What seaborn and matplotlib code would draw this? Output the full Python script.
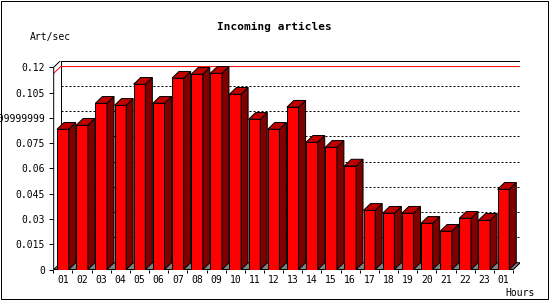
import numpy as np
import pandas as pd
import matplotlib
matplotlib.use("Agg")
import matplotlib.pyplot as plt
import seaborn as sns
from matplotlib.patches import Polygon, Rectangle

# ---- data ----
hours = ["01", "02", "03", "04", "05", "06", "07", "08", "09", "10", "11", "12",
         "13", "14", "15", "16", "17", "18", "19", "20", "21", "22", "23", "01"]
values = [0.0832, 0.0856, 0.0986, 0.0974, 0.1099, 0.0986, 0.1135, 0.1158,
          0.1164, 0.1040, 0.0891, 0.0832, 0.0963, 0.0755, 0.0725, 0.0614,
          0.0351, 0.0334, 0.0334, 0.0274, 0.0227, 0.0304, 0.0292, 0.0476]
ytick_values = [0, 0.015, 0.03, 0.045, 0.06, 0.075, 0.09, 0.105, 0.12]
ytick_labels = ["0", "0.015", "0.03", "0.045", "0.06", "0.075", "0.09999999",
                "0.105", "0.12"]
title = "Incoming articles"
ylabel = "Art/sec"
xlabel = "Hours"

sns.set_theme(style="white")
plt.rcParams['font.family'] = ['DejaVu Sans Mono', 'DejaVu Sans']

W, H = 550, 300
fig = plt.figure(figsize=(W / 100, H / 100), dpi=100)
fig.patch.set_facecolor("white")

ax = fig.add_axes([53.3 / W, (H - 269.5) / H, (520.3 - 53.3) / W, (269.5 - 60.5) / H])
ax.set_facecolor("none")

BAR_W = 0.61
X0, X1 = -0.48, 23.88
TOP = 0.1240
DX = 7 / 19.17
DY = TOP - 0.12
LW = 0.72

df = pd.DataFrame({"slot": np.arange(len(values)), "rate": values})
sns.barplot(data=df, x="slot", y="rate", color="#ff0000", saturation=1,
            width=BAR_W, edgecolor="black", linewidth=LW, errorbar=None,
            ax=ax, zorder=3)

# floor
floor = Polygon([(X0, 0), (X0 + DX, DY), (X1, DY), (X1 - DX, 0)], closed=True,
                facecolor="#808080", edgecolor="black", lw=LW, zorder=1)
ax.add_patch(floor)

# back wall outline
ax.plot([X0 + DX, X0 + DX, X1, X1], [DY, TOP, TOP, DY], color="black", lw=LW,
        zorder=2, solid_capstyle="butt")

# dotted gridlines on the back wall
for v in ytick_values[1:-1]:
    ax.plot([X0 + DX, X1], [v + DY, v + DY], color="black", lw=LW,
            linestyle=(0, (2, 2)), zorder=2)

# red max line
vmax = max(values)
ax.plot([X0, X0 + DX, X1], [vmax, vmax + DY, vmax + DY], color="#ff0000",
        lw=LW, zorder=2.5)

# 3D sides and tops of bars
for i, v in enumerate(values):
    xl, xr = i - BAR_W / 2, i + BAR_W / 2
    side = Polygon([(xr, 0), (xr + DX, DY), (xr + DX, v + DY), (xr, v)],
                   closed=True, facecolor="#800000", edgecolor="black",
                   lw=LW, zorder=3, clip_on=False)
    topf = Polygon([(xl, v), (xl + DX, v + DY), (xr + DX, v + DY), (xr, v)],
                   closed=True, facecolor="#c00000", edgecolor="black",
                   lw=LW, zorder=3, clip_on=False)
    ax.add_patch(side)
    ax.add_patch(topf)

# front axes lines
ax.plot([X0, X0, X0 + DX], [0, 0.12, TOP], color="black", lw=LW, zorder=5)
ax.plot([X0, X1 - DX], [0, 0], color="black", lw=LW, zorder=5)

ax.set_xlim(X0, X1)
ax.set_ylim(0, TOP)
for s in ax.spines.values():
    s.set_visible(False)
ax.set_xlabel("")
ax.set_ylabel("")

ax.set_yticks(ytick_values, ytick_labels)
ax.tick_params(axis="y", left=True, length=2.9, width=LW, pad=2.9,
               labelsize=7, color="black", labelcolor="black")
ax.set_xticks(range(len(hours)), hours)
ax.set_xticks(np.arange(-0.5, len(hours)), minor=True)
ax.tick_params(axis="x", which="major", bottom=True, length=0, pad=4,
               labelsize=7, labelcolor="black")
ax.tick_params(axis="x", which="minor", bottom=True, length=2.4, width=LW,
               color="black")
ax.grid(False)

fig.text(274 / W, 1 - 27 / H, title, ha="center", va="center", fontsize=8,
         fontweight="bold", color="black")
fig.text(30 / W, 1 - 37 / H, ylabel, ha="left", va="center", fontsize=7,
         color="black")
fig.text(505 / W, 1 - 292.7 / H, xlabel, ha="left", va="center", fontsize=7,
         color="black")

fig.add_artist(Rectangle((0.5 / W, 1.5 / H), 547 / W, 298 / H, fill=False,
                         edgecolor="black", lw=LW, transform=fig.transFigure))

fig.savefig("out.png", dpi=100)
